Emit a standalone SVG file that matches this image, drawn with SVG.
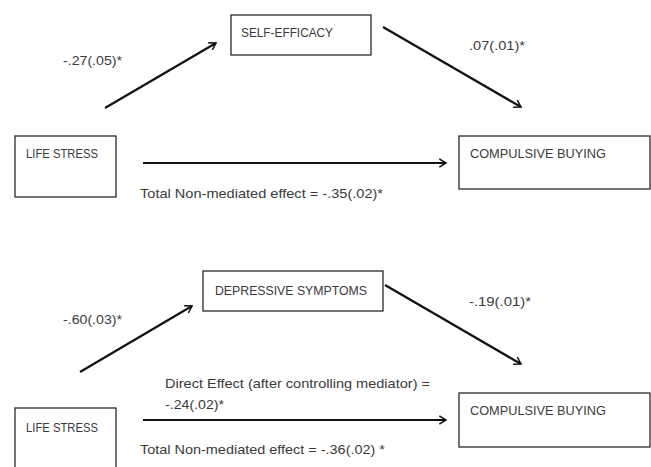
<svg xmlns="http://www.w3.org/2000/svg" width="651" height="467" viewBox="0 0 651 467">
<defs>
<marker id="arr" viewBox="0 0 12 12" refX="10" refY="6" markerWidth="10" markerHeight="10" orient="auto" markerUnits="userSpaceOnUse">
<path d="M2,1 L10,6 L2,11" fill="none" stroke="#111" stroke-width="1.8"/>
</marker>
<style>
.box{fill:#fff;stroke:#2a2a2a;stroke-width:1.3}
.t{font-family:"Liberation Sans",Arial,sans-serif;font-size:13px;fill:#3a3a3a}
.c{stroke:#111;stroke-width:2.2;fill:none}
</style>
</defs>
<rect width="651" height="467" fill="#fff"/>
<g id="connectors">
<line class="c" x1="105" y1="108" x2="216" y2="43" marker-end="url(#arr)"/>
<line class="c" x1="383" y1="27" x2="521" y2="107" marker-end="url(#arr)"/>
<line class="c" x1="143" y1="163" x2="446" y2="163" marker-end="url(#arr)"/>
<line class="c" x1="80" y1="372" x2="192" y2="306" marker-end="url(#arr)"/>
<line class="c" x1="385" y1="285" x2="521" y2="364" marker-end="url(#arr)"/>
<line class="c" x1="143" y1="420" x2="446" y2="420" marker-end="url(#arr)"/>
</g>
<g id="labels">
<text class="t" x="63" y="65" textLength="59" lengthAdjust="spacingAndGlyphs">-.27(.05)*</text>
<text class="t" x="469" y="50" textLength="56" lengthAdjust="spacingAndGlyphs">.07(.01)*</text>
<text class="t" x="140" y="198" textLength="243" lengthAdjust="spacingAndGlyphs">Total Non-mediated effect = -.35(.02)*</text>
<text class="t" x="63" y="324" textLength="59" lengthAdjust="spacingAndGlyphs">-.60(.03)*</text>
<text class="t" x="469" y="306" textLength="62" lengthAdjust="spacingAndGlyphs">-.19(.01)*</text>
<text class="t" x="165" y="388" textLength="265" lengthAdjust="spacingAndGlyphs">Direct Effect (after controlling mediator) =</text>
<text class="t" x="165" y="409" textLength="59" lengthAdjust="spacingAndGlyphs">-.24(.02)*</text>
<text class="t" x="140" y="454" textLength="245" lengthAdjust="spacingAndGlyphs">Total Non-mediated effect = -.36(.02) *</text>
</g>
<g id="self-efficacy">
<rect class="box" x="231" y="15" width="140" height="40"/>
<text class="t" x="241" y="37" textLength="92" lengthAdjust="spacingAndGlyphs">SELF-EFFICACY</text>
</g>
<g id="life-stress-1">
<rect class="box" x="15" y="136" width="101" height="61"/>
<text class="t" x="26" y="158" textLength="72" lengthAdjust="spacingAndGlyphs">LIFE STRESS</text>
</g>
<g id="compulsive-buying-1">
<rect class="box" x="459" y="136" width="191" height="53"/>
<text class="t" x="470" y="158" textLength="136" lengthAdjust="spacingAndGlyphs">COMPULSIVE BUYING</text>
</g>
<g id="depressive-symptoms">
<rect class="box" x="203" y="271" width="180" height="40"/>
<text class="t" x="215" y="295" textLength="152" lengthAdjust="spacingAndGlyphs">DEPRESSIVE SYMPTOMS</text>
</g>
<g id="life-stress-2">
<rect class="box" x="15" y="408" width="101" height="70"/>
<text class="t" x="26" y="432" textLength="72" lengthAdjust="spacingAndGlyphs">LIFE STRESS</text>
</g>
<g id="compulsive-buying-2">
<rect class="box" x="459" y="393" width="191" height="54"/>
<text class="t" x="470" y="415" textLength="136" lengthAdjust="spacingAndGlyphs">COMPULSIVE BUYING</text>
</g>
</svg>
